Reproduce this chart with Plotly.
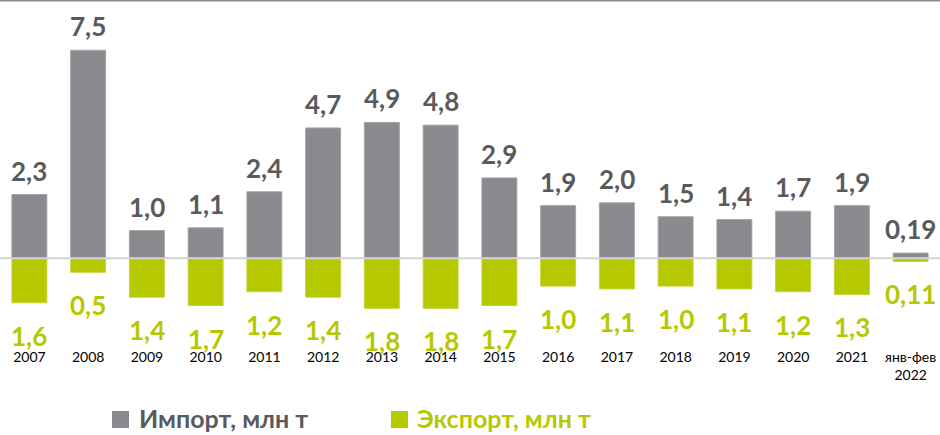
import plotly.graph_objects as go

categories = ["2007", "2008", "2009", "2010", "2011", "2012", "2013", "2014",
              "2015", "2016", "2017", "2018", "2019", "2020", "2021", "янв-фев<br>2022"]
import_vals = [2.3, 7.5, 1.0, 1.1, 2.4, 4.7, 4.9, 4.8, 2.9, 1.9, 2.0, 1.5, 1.4, 1.7, 1.9, 0.19]
export_vals = [1.6, 0.5, 1.4, 1.7, 1.2, 1.4, 1.8, 1.8, 1.7, 1.0, 1.1, 1.0, 1.1, 1.2, 1.3, 0.11]
import_labels = ["2,3", "7,5", "1,0", "1,1", "2,4", "4,7", "4,9", "4,8", "2,9", "1,9",
                 "2,0", "1,5", "1,4", "1,7", "1,9", "0,19"]
export_labels = ["1,6", "0,5", "1,4", "1,7", "1,2", "1,4", "1,8", "1,8", "1,7", "1,0",
                 "1,1", "1,0", "1,1", "1,2", "1,3", "0,11"]
series_names = ["Импорт, млн т", "Экспорт, млн т"]

GRAY = "#898a8e"
GRAY_TXT = "#595a5c"
GREEN = "#b5c800"
FONT = "Lato"
PLOT_H = 343  # plot area height in px (height - bottom margin)

fig = go.Figure()
fig.add_trace(go.Bar(x=categories, y=import_vals, name=series_names[0],
                     marker=dict(color=GRAY, line=dict(color="#a3a4a7", width=1))))
fig.add_trace(go.Bar(x=categories, y=[-v for v in export_vals], name=series_names[1],
                     marker=dict(color=GREEN, line=dict(color="#c4d43a", width=1))))

for i, (v, t) in enumerate(zip(import_vals, import_labels)):
    fig.add_annotation(x=i, y=v, text=t, showarrow=False, yanchor="bottom", yshift=6,
                       font=dict(family=FONT, size=26, color=GRAY_TXT, weight="bold"))
for i, (v, t) in enumerate(zip(export_vals, export_labels)):
    fig.add_annotation(x=i, y=-v, text=t, showarrow=False, yanchor="top", yshift=-15,
                       font=dict(family=FONT, size=26, color=GREEN, weight="bold"))

# zero line over bars and top border line
fig.add_shape(type="line", xref="paper", x0=0, x1=1, yref="y", y0=0, y1=0,
              line=dict(color="#d4d4d4", width=2), layer="above")
fig.add_shape(type="line", xref="paper", x0=0, x1=1, yref="paper", y0=1, y1=1,
              line=dict(color="#8a8c8f", width=3), layer="above")

# legend (manual, bottom)
def py(pix):
    return (PLOT_H - pix) / PLOT_H

leg = [(112, 137, GRAY, GRAY_TXT, series_names[0]), (391, 415, GREEN, GREEN, series_names[1])]
for sx, tx, col, tcol, name in leg:
    fig.add_shape(type="rect", xref="paper", yref="paper",
                  x0=sx / 940, x1=(sx + 17) / 940, y0=py(428), y1=py(411),
                  fillcolor=col, line=dict(width=0))
    fig.add_annotation(xref="paper", yref="paper", x=tx / 940, y=py(435), xanchor="left",
                       yanchor="bottom", text=name, showarrow=False,
                       font=dict(family=FONT, size=25, color=tcol, weight="bold"))

fig.update_layout(
    width=940, height=435,
    margin=dict(l=0, r=0, t=0, b=435 - PLOT_H),
    barmode="relative", bargap=0.405,
    plot_bgcolor="white", paper_bgcolor="white",
    font=dict(family=FONT),
    showlegend=False,
    xaxis=dict(type="category", range=[-0.5, 15.5], showgrid=False, showline=False,
               ticks="", ticklabelstandoff=4,
               tickfont=dict(family=FONT, size=14, color="#000000")),
    yaxis=dict(range=[-3.05, 9.31], showgrid=False, zeroline=False,
               showticklabels=False, showline=False),
)
fig.write_html("out.html")
